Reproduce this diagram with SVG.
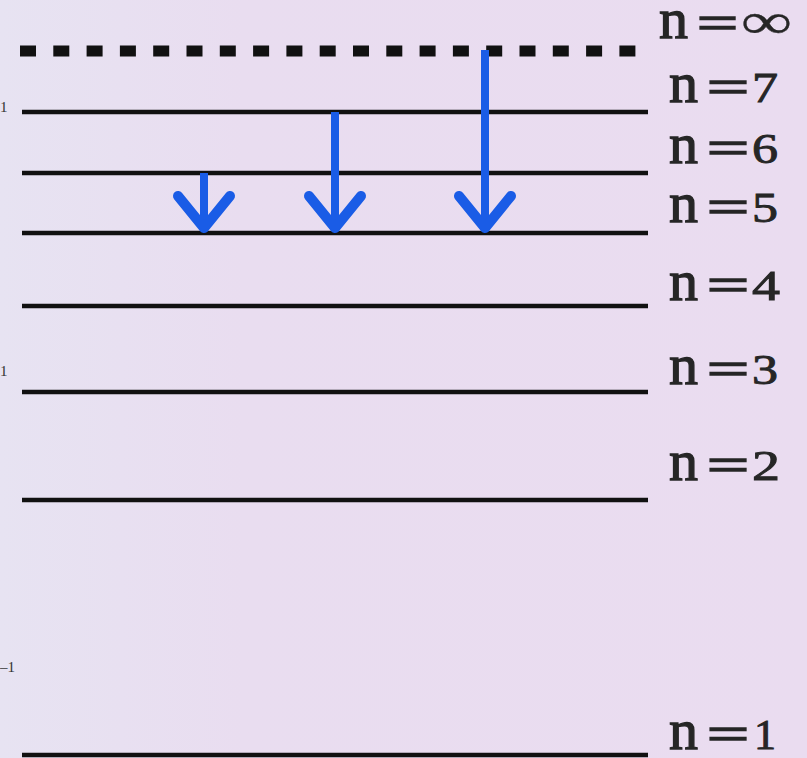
<svg xmlns="http://www.w3.org/2000/svg" width="807" height="758" viewBox="0 0 807 758">
  <defs>
    <linearGradient id="bg" x1="0" y1="0" x2="1" y2="0">
      <stop offset="0" stop-color="#e7e3f2"/>
      <stop offset="0.3" stop-color="#e9ddf0"/>
      <stop offset="1" stop-color="#eadcf0"/>
    </linearGradient>
    <style>
      .lvl { stroke: #111; stroke-width: 4.5; fill: none; }
      .dot { stroke: #111; stroke-width: 11; fill: none; stroke-dasharray: 16 17.3; }
      .shaft { stroke: #1a5ce6; stroke-width: 8; fill: none; }
      .head { stroke: #1a5ce6; stroke-width: 10; fill: none; stroke-linecap: round; stroke-linejoin: round; }
      .lbl { font-family: "Liberation Serif", "DejaVu Serif", serif; font-size: 42px; fill: #262626; stroke: #262626; stroke-width: 0.9; }
      .n { font-size: 58px; stroke-width: 1.3; }
      .eq { font-size: 46px; stroke-width: 1.6; }
      .inf { font-size: 50px; stroke-width: 0.3; }
      .frag { font-family: "Liberation Serif", serif; font-size: 15px; fill: #333; }
    </style>
  </defs>
  <rect x="0" y="0" width="807" height="758" fill="url(#bg)"/>

  <g id="levels">
    <g id="level-inf"><line class="dot" x1="20" y1="51" x2="636" y2="51"/><text class="lbl" y="38"><tspan class="n" x="659">n</tspan><tspan class="eq" x="697" textLength="41" lengthAdjust="spacingAndGlyphs">=</tspan><tspan class="inf" x="741" textLength="51" lengthAdjust="spacingAndGlyphs">∞</tspan></text></g>
    <g id="level-7"><line class="lvl" x1="22" y1="112" x2="648" y2="112"/><text class="lbl" y="102"><tspan class="n" x="669">n</tspan><tspan class="eq" x="707" textLength="42" lengthAdjust="spacingAndGlyphs">=</tspan><tspan x="752" textLength="26" lengthAdjust="spacingAndGlyphs">7</tspan></text></g>
    <g id="level-6"><line class="lvl" x1="22" y1="173" x2="648" y2="173"/><text class="lbl" y="163"><tspan class="n" x="669">n</tspan><tspan class="eq" x="707" textLength="42" lengthAdjust="spacingAndGlyphs">=</tspan><tspan x="752" textLength="26" lengthAdjust="spacingAndGlyphs">6</tspan></text></g>
    <g id="level-5"><line class="lvl" x1="22" y1="233" x2="648" y2="233"/><text class="lbl" y="222"><tspan class="n" x="669">n</tspan><tspan class="eq" x="707" textLength="42" lengthAdjust="spacingAndGlyphs">=</tspan><tspan x="752" textLength="26" lengthAdjust="spacingAndGlyphs">5</tspan></text></g>
    <g id="level-4"><line class="lvl" x1="22" y1="306" x2="648" y2="306"/><text class="lbl" y="300"><tspan class="n" x="669">n</tspan><tspan class="eq" x="707" textLength="42" lengthAdjust="spacingAndGlyphs">=</tspan><tspan x="752" textLength="28" lengthAdjust="spacingAndGlyphs">4</tspan></text></g>
    <g id="level-3"><line class="lvl" x1="22" y1="392" x2="648" y2="392"/><text class="lbl" y="384"><tspan class="n" x="669">n</tspan><tspan class="eq" x="707" textLength="42" lengthAdjust="spacingAndGlyphs">=</tspan><tspan x="752" textLength="26" lengthAdjust="spacingAndGlyphs">3</tspan></text></g>
    <g id="level-2"><line class="lvl" x1="22" y1="500" x2="648" y2="500"/><text class="lbl" y="480"><tspan class="n" x="669">n</tspan><tspan class="eq" x="707" textLength="42" lengthAdjust="spacingAndGlyphs">=</tspan><tspan x="752" textLength="28" lengthAdjust="spacingAndGlyphs">2</tspan></text></g>
    <g id="level-1"><line class="lvl" x1="22" y1="755" x2="648" y2="755"/><text class="lbl" y="749"><tspan class="n" x="669">n</tspan><tspan class="eq" x="707" textLength="42" lengthAdjust="spacingAndGlyphs">=</tspan><tspan x="754" textLength="22" lengthAdjust="spacingAndGlyphs">1</tspan></text></g>
  </g>

  <g id="fragments">
    <text class="frag" x="0" y="112">1</text>
    <text class="frag" x="0" y="376">1</text>
    <text class="frag" x="0" y="672">–1</text>
  </g>

  <g id="connectors">
    <g id="arrow-6-5">
      <line class="shaft" x1="204" y1="173" x2="204" y2="226"/>
      <polyline class="head" points="178,196 204,228 230,196"/>
    </g>
    <g id="arrow-7-5">
      <line class="shaft" x1="335" y1="112" x2="335" y2="226"/>
      <polyline class="head" points="309,196 335,228 361,196"/>
    </g>
    <g id="arrow-inf-5">
      <line class="shaft" x1="485" y1="50" x2="485" y2="226"/>
      <polyline class="head" points="459,196 485,228 511,196"/>
    </g>
  </g>
</svg>
